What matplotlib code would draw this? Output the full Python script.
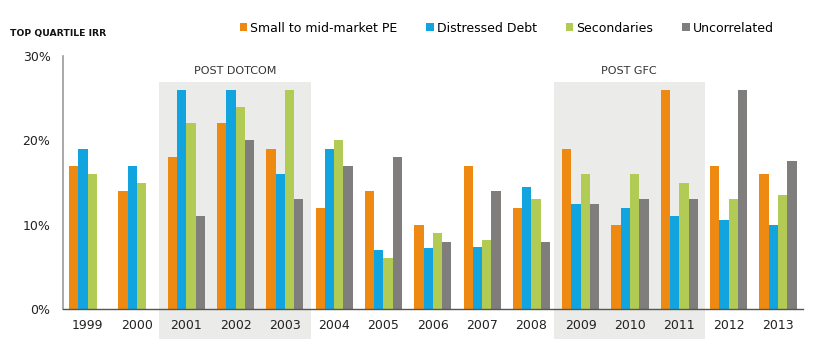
import numpy as np
import matplotlib
matplotlib.use("Agg")
import matplotlib.pyplot as plt
from matplotlib.patches import Rectangle

years = ["1999", "2000", "2001", "2002", "2003", "2004", "2005", "2006",
         "2007", "2008", "2009", "2010", "2011", "2012", "2013"]
small_mid_pe = [17, 14, 18, 22, 19, 12, 14, 10, 17, 12, 19, 10, 26, 17, 16]
distressed = [19, 17, 26, 26, 16, 19, 7, 7.2, 7.3, 14.5, 12.5, 12, 11, 10.5, 10]
secondaries = [16, 15, 22, 24, 26, 20, 6, 9, 8.2, 13, 16, 16, 15, 13, 13.5]
uncorrelated = [np.nan, np.nan, 11, 20, 13, 17, 18, 8, 14, 8, 12.5, 13, 13, 26, 17.5]

series = [("Small to mid-market PE", small_mid_pe, "#EE8A12"),
          ("Distressed Debt", distressed, "#12A4DE"),
          ("Secondaries", secondaries, "#B2CB54"),
          ("Uncorrelated", uncorrelated, "#7F7E7C")]

# periodes grisees : (premiere annee, derniere annee, libelle)
periods = [("2001", "2003", "POST DOTCOM"), ("2009", "2011", "POST GFC")]

fig = plt.figure(figsize=(8.2, 3.52), dpi=100)
ax = fig.add_axes([0.0768, 0.122, 0.902, 0.719])

x = np.arange(len(years))
w = 0.188

for i0, i1, lab in periods:
    a = years.index(i0) - 0.55
    b = years.index(i1) + 0.52
    r = Rectangle((a, -3.6), b - a, 3.6 + 26.9, facecolor="#EBEBE9",
                  edgecolor="none", clip_on=False, zorder=0)
    ax.add_patch(r)
    ax.text((a + b) / 2, 27.6, lab, ha="center", va="bottom", fontsize=8,
            color="#333333")

for k, (name, vals, col) in enumerate(series):
    ax.bar(x + (k - 1.5) * w, vals, width=w, color=col, label=name, zorder=2)

ax.set_xlim(-0.5, len(years) - 0.5)
ax.set_ylim(0, 30)
ax.set_yticks([0, 10, 20, 30])
ax.set_yticklabels(["0%", "10%", "20%", "30%"], fontsize=9, color="#222222")
ax.set_xticks(x)
ax.set_xticklabels(years, fontsize=9, color="#222222")
ax.tick_params(length=0, pad=7)
ax.tick_params(axis="y", pad=9)

ax.spines["top"].set_visible(False)
ax.spines["right"].set_visible(False)
ax.spines["left"].set_color("#9A9A9A")
ax.spines["left"].set_linewidth(1.2)
ax.spines["bottom"].set_color("#555555")
ax.spines["bottom"].set_linewidth(1.0)
ax.patch.set_alpha(0)

fig.text(0.012, 0.905, "TOP QUARTILE IRR", fontsize=6.7, fontweight="bold",
         ha="left", va="center", color="#111111")

fig.legend(loc="center", bbox_to_anchor=(0.618, 0.92), ncol=4, frameon=False,
           fontsize=9, handlelength=0.6, handleheight=0.6,
           handletextpad=0.25, columnspacing=2.3)

fig.savefig("out.png", dpi=100)
